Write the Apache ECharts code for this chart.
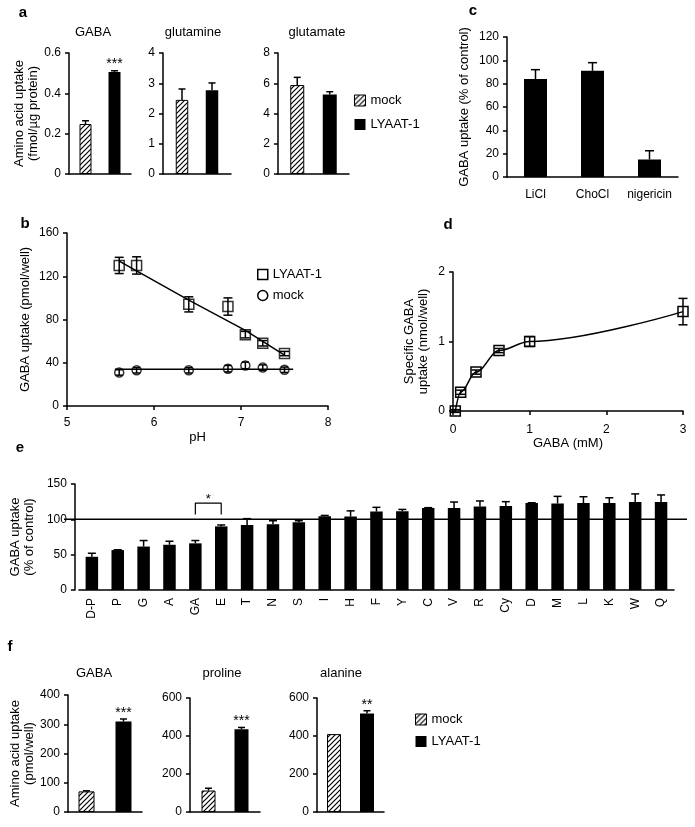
<!DOCTYPE html>
<html><head><meta charset="utf-8">
<script src="https://cdn.jsdelivr.net/npm/echarts@6/dist/echarts.min.js"></script>
<style>html,body{margin:0;padding:0;background:#fff}#c{width:695px;height:827px}</style>
</head><body><div id="c"></div>
<script>
// ---------- DATA ----------
// panel a
const aCats = ['GABA', 'glutamine', 'glutamate'];
const aMock = [0.248, 2.45, 5.88];
const aMockErr = [0.016, 0.36, 0.51];
const aLyaat = [0.506, 2.77, 5.25];
const aLyaatErr = [0.006, 0.24, 0.19];
const aStars = ['***', '', ''];
const aYMax = [0.6, 4, 8];
const aYStep = [0.2, 1, 2];
// panel b
const bPH = [5.6, 5.8, 6.4, 6.85, 7.05, 7.25, 7.5];
const bLyaat = [130, 130, 94, 92, 66, 58, 48.5];
const bLyaatErr = [7.5, 8, 7, 8, 3, 2.5, 2];
const bMock = [31, 33, 33, 34.5, 37.5, 35.5, 33.5];
const bMockErr = [2.5, 2.5, 2.5, 3, 3, 2.5, 2.5];
const bFitLyaatX = [5.6, 6.4, 7.05, 7.5];
const bFitLyaatY = [134, 98, 70, 47];
const bFitMockX = [5.55, 7.6];
const bFitMockY = [34, 34];
// panel c
const cCats = ['LiCl', 'ChoCl', 'nigericin'];
const cVals = [84, 91, 15];
const cErr = [8, 7, 7.5];
// panel d
const dConc = [0.03, 0.1, 0.3, 0.6, 1, 3];
const dVals = [0, 0.27, 0.56, 0.87, 1.0, 1.43];
const dErr = [0.02, 0.03, 0.03, 0.03, 0.07, 0.19];
// panel e
const eCats = ['D-P','P','G','A','GA','E','T','N','S','I','H','F','Y','C','V','R','Cy','D','M','L','K','W','Q'];
const eVals = [47, 56.5, 61.5, 64, 66, 90, 92, 93, 96, 104.5, 104, 111, 111.5, 116, 116, 118, 119, 123, 122.5, 123, 123, 124.5, 124.5];
const eErr  = [5, 0.5, 8.5, 5, 4, 2, 9, 5, 2, 1, 8, 6, 2.5, 0.5, 8.5, 8, 6, 0.5, 10, 9, 7.5, 11.5, 10];
const eRef = 100;
const eBracketCats = ['GA', 'GA', 'E', 'E'];
const eBracketVals = [107, 123, 123, 107];
// panel f
const fCats = ['GABA', 'proline', 'alanine'];
const fMock = [70.5, 113, 410];
const fMockErr = [2, 12, 0];
const fLyaat = [309, 436, 519];
const fLyaatErr = [9, 9, 14];
const fStars = ['***', '***', '**'];
const fYMax = [400, 600, 600];
const fYStep = [100, 200, 200];

// ---------- STYLE HELPERS ----------
const FONT = '"Liberation Sans", Arial, Helvetica, sans-serif';
const BLACK = '#000';
function hatchCanvas() {
  const s = 5, c = document.createElement('canvas');
  c.width = s; c.height = s;
  const g = c.getContext('2d');
  g.fillStyle = '#fff'; g.fillRect(0, 0, s, s);
  g.strokeStyle = '#000'; g.lineWidth = 1.2;
  g.beginPath();
  g.moveTo(0, s); g.lineTo(s, 0);
  g.moveTo(-1, 1); g.lineTo(1, -1);
  g.moveTo(s - 1, s + 1); g.lineTo(s + 1, s - 1);
  g.stroke();
  return c;
}
const HATCH = { image: hatchCanvas(), repeat: 'repeat' };
const HOLLOW = { color: 'rgba(0,0,0,0)', borderColor: BLACK, borderWidth: 1.5 };

function axLine() { return { show: true, onZero: false, lineStyle: { color: BLACK, width: 1.5 } }; }
function axTick(show) { return { show: show, length: 4, lineStyle: { color: BLACK, width: 1.5 } }; }
function yAx(grid, max, step, extra) {
  return Object.assign({
    type: 'value', gridIndex: grid, min: 0, max: max, interval: step,
    axisLine: axLine(), axisTick: axTick(true),
    axisLabel: { color: BLACK, fontSize: 12, fontFamily: FONT, margin: 8 },
    splitLine: { show: false },
    nameLocation: 'middle', nameRotate: 90,
    nameTextStyle: { color: BLACK, fontSize: 13, lineHeight: 14, fontFamily: FONT }
  }, extra || {});
}
function xCat(grid, data, extra) {
  return Object.assign({
    type: 'category', gridIndex: grid, data: data,
    axisLine: axLine(), axisTick: axTick(false),
    axisLabel: { show: false }, splitLine: { show: false }
  }, extra || {});
}
function xVal(grid, min, max, step, extra) {
  return Object.assign({
    type: 'value', gridIndex: grid, min: min, max: max, interval: step,
    axisLine: axLine(), axisTick: axTick(true),
    axisLabel: { color: BLACK, fontSize: 12, fontFamily: FONT, margin: 11 },
    splitLine: { show: false },
    nameLocation: 'middle',
    nameTextStyle: { color: BLACK, fontSize: 13, fontFamily: FONT }
  }, extra || {});
}
// error bars: data rows [x, lo, hi]
function errSeries(axis, rows, cap, offset, both) {
  return {
    type: 'custom', xAxisIndex: axis, yAxisIndex: axis, data: rows, z: 5, silent: true,
    renderItem: function (params, api) {
      const x = api.value(0), lo = api.value(1), hi = api.value(2);
      if (!(hi > lo)) return null;
      const p1 = api.coord([x, lo]), p2 = api.coord([x, hi]);
      const cx = p1[0] + (offset || 0);
      const st = { stroke: BLACK, lineWidth: 1.5 };
      const ch = [
        { type: 'line', shape: { x1: cx, y1: p1[1], x2: cx, y2: p2[1] }, style: st },
        { type: 'line', shape: { x1: cx - cap, y1: p2[1], x2: cx + cap, y2: p2[1] }, style: st }
      ];
      if (both) ch.push({ type: 'line', shape: { x1: cx - cap, y1: p1[1], x2: cx + cap, y2: p1[1] }, style: st });
      return { type: 'group', children: ch };
    }
  };
}

// ---------- LAYOUT ----------
const grids = [
  { left: 69, top: 53, width: 62, height: 121 },   // 0 a GABA
  { left: 163, top: 53, width: 68, height: 121 },  // 1 a glutamine
  { left: 278, top: 53, width: 71, height: 121 },  // 2 a glutamate
  { left: 507, top: 37, width: 171, height: 140 }, // 3 c
  { left: 67, top: 233, width: 261, height: 173 }, // 4 b
  { left: 453, top: 272, width: 230, height: 139 },// 5 d
  { left: 68, top: 484, width: 606, height: 106 }, // 6 e
  { left: 64, top: 484, width: 623, height: 106 }, // 7 e reference line
  { left: 68, top: 695, width: 74, height: 117 },  // 8 f GABA
  { left: 190, top: 698, width: 70, height: 114 }, // 9 f proline
  { left: 317, top: 698, width: 67, height: 114 }  // 10 f alanine
];
const aBarW = [12, 12.5, 14], aGapPx = [17, 17.5, 18.5];
const fBarW = [16, 14, 14], fGapPx = [21, 19, 19];

const xAxis = [], yAxis = [], series = [];

// panel a (grids 0..2)
aCats.forEach(function (cat, k) {
  xAxis.push(xCat(k, [cat]));
  const extra = k === 0 ? { name: 'Amino acid uptake\n(fmol/\u00b5g protein)', nameGap: 28 } : {};
  yAxis.push(yAx(k, aYMax[k], aYStep[k], extra));
  const bw = aBarW[k], gp = aGapPx[k], off = (bw + gp) / 2;
  series.push({ type: 'bar', name: 'mock', xAxisIndex: k, yAxisIndex: k, data: [aMock[k]],
    barWidth: bw, barGap: (gp / bw * 100) + '%', itemStyle: { color: HATCH, borderColor: BLACK, borderWidth: 1 } });
  series.push({ type: 'bar', name: 'LYAAT-1', xAxisIndex: k, yAxisIndex: k,
    data: [{ value: aLyaat[k], label: { show: !!aStars[k], formatter: aStars[k], position: 'top', distance: 1,
      color: BLACK, fontSize: 14, fontFamily: FONT } }],
    barWidth: bw, barGap: (gp / bw * 100) + '%', itemStyle: { color: BLACK } });
  series.push(errSeries(k, [[0, aMock[k], aMock[k] + aMockErr[k]]], 3.5, -off));
  series.push(errSeries(k, [[0, aLyaat[k], aLyaat[k] + aLyaatErr[k]]], 3.5, off));
});

// panel c (grid 3)
xAxis.push(xCat(3, cCats, { axisLabel: { show: true, interval: 0, hideOverlap: false, color: BLACK, fontSize: 12, fontFamily: FONT, margin: 12 } }));
yAxis.push(yAx(3, 120, 20, { name: 'GABA uptake (% of control)', nameGap: 36 }));
series.push({ type: 'bar', name: 'c', xAxisIndex: 3, yAxisIndex: 3, data: cVals, barWidth: 23, itemStyle: { color: BLACK } });
series.push(errSeries(3, cVals.map(function (v, i) { return [i, v, v + cErr[i]]; }), 4.5, 0));

// panel b (grid 4)
xAxis.push(xVal(4, 5, 8, 1, { name: 'pH', nameGap: 25 }));
yAxis.push(yAx(4, 160, 40, { name: 'GABA uptake (pmol/well)', nameGap: 35 }));
series.push({ type: 'line', name: 'fitL', xAxisIndex: 4, yAxisIndex: 4, symbol: 'none',
  data: bFitLyaatX.map(function (x, i) { return [x, bFitLyaatY[i]]; }), lineStyle: { color: BLACK, width: 1.5 } });
series.push({ type: 'line', name: 'fitM', xAxisIndex: 4, yAxisIndex: 4, symbol: 'none',
  data: bFitMockX.map(function (x, i) { return [x, bFitMockY[i]]; }), lineStyle: { color: BLACK, width: 1.5 } });
series.push(errSeries(4, bPH.map(function (x, i) { return [x, bLyaat[i] - bLyaatErr[i], bLyaat[i] + bLyaatErr[i]]; }), 4.5, 0, true));
series.push(errSeries(4, bPH.map(function (x, i) { return [x, bMock[i] - bMockErr[i], bMock[i] + bMockErr[i]]; }), 3.5, 0, true));
series.push({ type: 'scatter', name: 'LYAAT-1', xAxisIndex: 4, yAxisIndex: 4, symbol: 'rect', symbolSize: 10,
  data: bPH.map(function (x, i) { return [x, bLyaat[i]]; }), itemStyle: HOLLOW, z: 6 });
series.push({ type: 'scatter', name: 'mock', xAxisIndex: 4, yAxisIndex: 4, symbol: 'circle', symbolSize: 9,
  data: bPH.map(function (x, i) { return [x, bMock[i]]; }), itemStyle: HOLLOW, z: 6 });

// panel d (grid 5)
xAxis.push(xVal(5, 0, 3, 1, { name: 'GABA (mM)', nameGap: 18, axisLabel: { color: BLACK, fontSize: 12, fontFamily: FONT, margin: 13 } }));
yAxis.push(yAx(5, 2, 1, { name: 'Specific GABA\nuptake (nmol/well)', nameGap: 23 }));
series.push({ type: 'line', name: 'd', xAxisIndex: 5, yAxisIndex: 5, smooth: 0.35, smoothMonotone: 'x',
  symbol: 'rect', symbolSize: 10, showSymbol: true,
  data: dConc.map(function (x, i) { return [x, dVals[i]]; }),
  lineStyle: { color: BLACK, width: 1.5 }, itemStyle: HOLLOW, z: 6 });
series.push(errSeries(5, dConc.map(function (x, i) { return [x, dVals[i] - dErr[i], dVals[i] + dErr[i]]; }), 4.5, 0, true));

// panel e (grids 6,7)
xAxis.push(xCat(6, eCats, { axisLabel: { show: true, rotate: 90, interval: 0, color: BLACK, fontSize: 12, fontFamily: FONT, margin: 8 } }));
yAxis.push(yAx(6, 150, 50, { offset: 4, name: 'GABA uptake\n(% of control)', nameGap: 30 }));
series.push({ type: 'bar', name: 'e', xAxisIndex: 6, yAxisIndex: 6, data: eVals, barWidth: 12.5, itemStyle: { color: BLACK } });
series.push(errSeries(6, eVals.map(function (v, i) { return [i, v, v + eErr[i]]; }), 4, 0));
series.push({ type: 'line', name: 'bracket', xAxisIndex: 6, yAxisIndex: 6, symbol: 'circle', symbolSize: 1,
  itemStyle: { color: 'rgba(0,0,0,0)' }, lineStyle: { color: BLACK, width: 1.2 },
  data: eBracketCats.map(function (c, i) {
    const item = { value: [c, eBracketVals[i]] };
    if (i === 1) item.label = { show: true, formatter: '*', position: 'top', distance: -3, offset: [13, 0], color: BLACK, fontSize: 13, fontFamily: FONT };
    return item;
  }) });
xAxis.push({ type: 'value', gridIndex: 7, min: 0, max: 1, show: false });
yAxis.push({ type: 'value', gridIndex: 7, min: 0, max: 150, show: false });
series.push({ type: 'line', name: 'ref', xAxisIndex: 7, yAxisIndex: 7, symbol: 'none', data: [[0, eRef], [1, eRef]],
  lineStyle: { color: BLACK, width: 1.5 }, z: 6 });

// panel f (grids 8..10)
fCats.forEach(function (cat, k) {
  const g = 8 + k;
  xAxis.push(xCat(g, [cat]));
  const extra = k === 0 ? { name: 'Amino acid uptake\n(pmol/well)', nameGap: 29 } : {};
  yAxis.push(yAx(g, fYMax[k], fYStep[k], extra));
  const bw = fBarW[k], gp = fGapPx[k], off = (bw + gp) / 2;
  series.push({ type: 'bar', name: 'mock', xAxisIndex: g, yAxisIndex: g, data: [fMock[k]],
    barWidth: bw, barGap: (gp / bw * 100) + '%', itemStyle: { color: HATCH, borderColor: BLACK, borderWidth: 1 } });
  series.push({ type: 'bar', name: 'LYAAT-1', xAxisIndex: g, yAxisIndex: g,
    data: [{ value: fLyaat[k], label: { show: !!fStars[k], formatter: fStars[k], position: 'top', distance: 1,
      color: BLACK, fontSize: 14, fontFamily: FONT } }],
    barWidth: bw, barGap: (gp / bw * 100) + '%', itemStyle: { color: BLACK } });
  series.push(errSeries(g, [[0, fMock[k], fMock[k] + fMockErr[k]]], 3.5, -off));
  series.push(errSeries(g, [[0, fLyaat[k], fLyaat[k] + fLyaatErr[k]]], 3.5, off));
});

// ---------- TEXT ----------
const graphic = [];
[['a', 23, 13], ['b', 25, 224], ['c', 473, 11], ['d', 448, 225], ['e', 20, 448], ['f', 10, 647]].forEach(function (t) {
  graphic.push({ type: 'text', x: t[1], y: t[2], style: { text: t[0], align: 'center', verticalAlign: 'middle',
    font: 'bold 15px ' + FONT, fill: BLACK } });
});
const aTitleX = [93, 193, 317], fTitleX = [94, 222, 341];
aCats.forEach(function (c, k) {
  graphic.push({ type: 'text', x: aTitleX[k], y: 32, style: { text: c, align: 'center', verticalAlign: 'middle', font: '13px ' + FONT, fill: BLACK } });
});
fCats.forEach(function (c, k) {
  graphic.push({ type: 'text', x: fTitleX[k], y: 673, style: { text: c, align: 'center', verticalAlign: 'middle', font: '13px ' + FONT, fill: BLACK } });
});

function barLegend(left, top, gap) {
  return { data: [
      { name: 'mock', icon: 'rect', itemStyle: { color: HATCH, borderColor: BLACK, borderWidth: 1 } },
      { name: 'LYAAT-1', icon: 'rect', itemStyle: { color: BLACK } }],
    left: left, top: top, orient: 'vertical', itemWidth: 11, itemHeight: 11, itemGap: gap, padding: 0,
    selectedMode: false, textStyle: { color: BLACK, fontSize: 13, fontFamily: FONT } };
}
const legend = [
  barLegend(354, 94, 11),
  barLegend(415, 713, 9),
  { data: [
      { name: 'LYAAT-1', icon: 'rect', itemStyle: HOLLOW },
      { name: 'mock', icon: 'circle', itemStyle: HOLLOW }],
    left: 257, top: 268, orient: 'vertical', itemWidth: 10, itemHeight: 10, itemGap: 8, padding: 0,
    selectedMode: false, textStyle: { color: BLACK, fontSize: 13, fontFamily: FONT } }
];

const chart = echarts.init(document.getElementById('c'), null, { renderer: 'canvas' });
chart.setOption({
  animation: false,
  backgroundColor: '#fff',
  textStyle: { fontFamily: FONT, color: BLACK },
  grid: grids, xAxis: xAxis, yAxis: yAxis, series: series, legend: legend, graphic: graphic
});
</script></body></html>
